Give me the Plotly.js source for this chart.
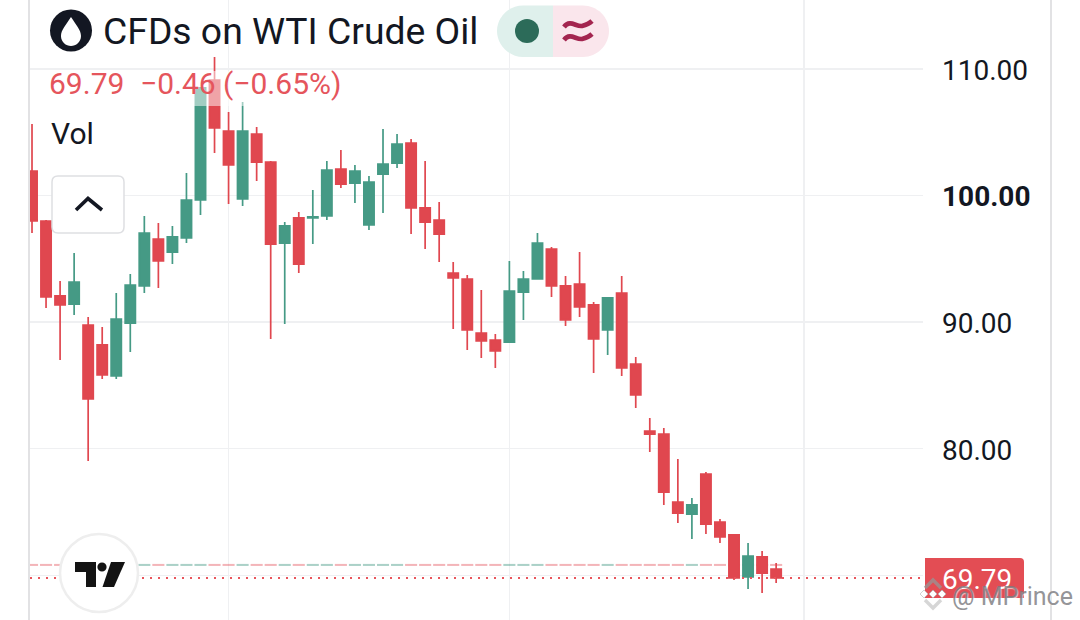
<!DOCTYPE html>
<html><head><meta charset="utf-8">
<script src="https://cdn.plot.ly/plotly-3.0.1.min.js"></script>
<style>html,body{margin:0;padding:0;background:#fff;overflow:hidden}#c{width:1080px;height:620px}</style>
</head><body><div id="c"></div>
<script>
const opens=[101.94,97.99,92.07,91.43,89.77,88.20,85.75,89.93,92.86,96.57,95.54,96.65,99.65,109.13,105.10,99.73,104.86,102.65,96.25,98.23,98.23,98.39,102.10,100.99,97.68,101.70,102.57,104.15,99.02,98.07,93.88,93.41,89.14,88.59,88.43,92.38,93.41,95.78,92.86,93.01,91.36,89.38,92.30,86.69,81.40,81.16,75.79,74.84,78.00,74.21,73.19,69.87,71.45,70.50];
const highs=[105.65,98.07,93.25,95.46,90.41,89.62,92.30,93.80,98.39,97.83,97.60,101.78,108.50,110.95,106.60,107.39,105.42,102.73,97.91,98.70,100.44,102.73,103.60,102.42,101.55,105.26,104.86,104.47,102.73,99.49,94.75,93.73,92.54,89.06,94.83,94.04,97.04,95.94,93.65,95.54,91.59,91.91,93.65,87.25,82.43,81.64,79.19,76.11,78.16,74.45,73.19,72.55,71.92,70.97];
const lows=[97.04,91.12,87.01,90.57,79.03,85.51,85.51,87.64,92.30,92.70,94.59,96.25,98.47,103.36,99.33,99.18,101.15,88.67,89.85,93.88,96.17,98.07,100.60,99.41,97.28,98.62,102.18,96.96,95.78,94.75,89.46,87.80,87.17,86.38,88.43,90.17,93.41,91.99,89.70,90.41,85.98,87.41,85.75,83.22,79.74,75.56,74.13,72.87,73.26,72.55,69.63,68.92,68.60,69.39];
const closes=[97.99,91.99,91.36,93.17,83.93,85.83,90.25,92.93,97.04,94.83,96.73,99.65,108.50,105.34,102.42,105.10,102.65,96.17,97.60,94.59,98.31,102.02,100.91,101.94,101.07,102.49,104.07,99.02,97.91,96.96,93.49,89.38,88.51,87.72,92.46,93.41,96.25,92.86,90.17,91.20,88.67,91.91,86.38,84.25,81.16,76.58,74.92,75.56,74.05,73.03,69.79,71.52,70.18,69.79];
const volumes=[0.16,0.16,0.16,0.16,0.16,0.16,0.16,0.16,0.16,0.16,0.16,0.16,0.16,0.16,0.16,0.16,0.16,0.16,0.16,0.16,0.16,0.16,0.16,0.16,0.16,0.16,0.16,0.16,0.16,0.16,0.16,0.16,0.16,0.16,0.16,0.16,0.16,0.16,0.16,0.16,0.16,0.16,0.16,0.16,0.16,0.16,0.16,0.16,0.16,0.16,0.16,0.16,0.16,0.16];
const priceTicks=[70,80,90,100,110];
const priceLabels=['','80.00','90.00','<b>100.00</b>','110.00'];
const lastPrice=69.79;
const volumeBase=70.74;
const timeGrid=[14,34,55];
const sessions=opens.map((_,i)=>i);

const RED='#E0474F',GREEN='#459A85',INK='#131722';
const L=30,R=157,W=1080,H=620,PW=W-L-R;
const fx=x=>(x-L)/PW, fy=y=>1-y/H;
const pth=s=>{let n=0;return s.replace(/-?\d+(\.\d+)?/g,m=>{const v=parseFloat(m);const r=(n++%2===0)?fx(v):fy(v);return r.toFixed(5);});};
const pshape=(d,o)=>Object.assign({type:'path',xref:'paper',yref:'paper',path:pth(d),layer:'above',line:{width:0}},o);
const circ=(cx,cy,r,o)=>Object.assign({type:'circle',xref:'paper',yref:'paper',x0:fx(cx-r),x1:fx(cx+r),y0:fy(cy+r),y1:fy(cy-r),layer:'above',line:{width:0}},o);
const rrect=(a,b,c,d,r)=>`M${a+r} ${b} L${c-r} ${b} Q${c} ${b} ${c} ${b+r} L${c} ${d-r} Q${c} ${d} ${c-r} ${d} L${a+r} ${d} Q${a} ${d} ${a} ${d-r} L${a} ${b+r} Q${a} ${b} ${a+r} ${b} Z`;
const note=(text,x,y,size,color,extra)=>Object.assign({text,xref:'paper',yref:'paper',x:fx(x),y:fy(y),xanchor:'left',yanchor:'middle',showarrow:false,font:{family:'Roboto',size,color}},extra||{});

const shapes=[
 {type:'line',xref:'paper',yref:'paper',x0:fx(29),x1:fx(29),y0:0,y1:1,layer:'above',line:{color:'#e2e2e4',width:2}},
 {type:'line',xref:'paper',yref:'paper',x0:fx(1051),x1:fx(1051),y0:0,y1:1,layer:'above',line:{color:'#e2e2e4',width:2}},
 {type:'rect',xref:'paper',yref:'paper',x0:fx(30),x1:fx(345),y0:fy(106),y1:fy(71),layer:'above',fillcolor:'rgba(255,255,255,0.5)',line:{width:0}},
 {type:'line',xref:'paper',yref:'y',x0:0,x1:1,y0:lastPrice,y1:lastPrice,layer:'above',line:{color:'#E8555C',width:2,dash:'2px,6px'}},
 pshape(`M925 558 L1020 558 Q1024 558 1024 562 L1024 598 L925 598 Z`,{fillcolor:'#E34D54'}),
 circ(71,30.5,21,{fillcolor:'#131722'}),
 pshape('M71 17 C66 25 61 30 61 36 C61 42 66 46 71 46 C76 46 81 42 81 36 C81 30 76 25 71 17 Z',{fillcolor:'#ffffff'}),
 pshape('M553 5.5 L523 5.5 C509 5.5 497 17 497 31 C497 45 509 57 523 57 L553 57 Z',{fillcolor:'#DFF0EC'}),
 pshape('M553 5.5 L583 5.5 C597 5.5 609 17 609 31 C609 45 597 57 583 57 L553 57 Z',{fillcolor:'#FAE6EC'}),
 circ(527,31,12,{fillcolor:'#2C6B59'}),
 pshape('M564 27 C570 19 576 27 582 26 C586 25 589 24 592 21',{line:{color:'#A3254F',width:4.6}}),
 pshape('M564 40 C570 32 576 40 582 39 C586 38 589 37 592 34',{line:{color:'#A3254F',width:4.6}}),
 pshape(rrect(52,176,124,233,6),{fillcolor:'#ffffff',line:{color:'#dedfe2',width:1.5}}),
 pshape('M76 210 L88 198.5 L102 210',{line:{color:INK,width:3.6}}),
 circ(99,573,39,{fillcolor:'#ffffff',line:{color:'#eeeeee',width:2.5}}),
 pshape('M75 562 L96 562 L96 587 L86 587 L86 572 L75 572 Z',{fillcolor:'#131313'}),
 circ(102,567,4.6,{fillcolor:'#131313'}),
 pshape('M111 562 L125 562 L114 587 L102.5 587 Z',{fillcolor:'#131313'}),
 pshape('M925 588 L933 580 L941 588',{line:{color:'rgba(150,150,150,0.75)',width:3.4}}),
 pshape('M933 590 L937 594 L933 598 L929 594 Z',{fillcolor:'#ffffff',line:{color:'rgba(175,175,175,0.7)',width:1}}),
 pshape('M924 590 L928 594 L924 598 L920 594 Z',{fillcolor:'#ffffff',line:{color:'rgba(190,190,190,0.7)',width:1}}),
 pshape('M942 590 L946 594 L942 598 L938 594 Z',{fillcolor:'#ffffff',line:{color:'rgba(175,175,175,0.7)',width:1}}),
 pshape('M925 600 L933 608 L941 600',{line:{color:'rgba(210,210,210,0.9)',width:3.4}})
];

const annotations=[
 note('CFDs on WTI Crude Oil',100.5,30.5,37.3,INK),
 note('69.79',46.5,83,30,'#E5555C'),
 note('\u22120.46 (\u22120.65%)',137.5,83,30,'#E5555C'),
 note('Vol',49,134,30,INK),
 note('69.79',977,579,28,'#ffffff',{xanchor:'center'}),
 note('@ MPrince',950,596,25,'rgba(120,120,125,0.8)',{font:{family:'Roboto',size:25,color:'rgba(120,120,125,0.8)',shadow:'1px 1px 1px rgba(255,255,255,0.8)'}})
];

const traces=[
 {type:'bar',x:sessions,y:volumes,base:volumeBase,width:0.86,hoverinfo:'skip',
  marker:{color:closes.map((c,i)=>c>=opens[i]?'rgba(69,154,133,0.45)':'rgba(224,71,79,0.4)'),line:{width:0}}},
 {type:'candlestick',x:sessions,open:opens,high:highs,low:lows,close:closes,whiskerwidth:0,
  increasing:{line:{color:GREEN,width:1.7},fillcolor:GREEN},
  decreasing:{line:{color:RED,width:1.7},fillcolor:RED}}
];

const layout={
 width:W,height:H,margin:{l:L,r:R,t:0,b:0,pad:0},paper_bgcolor:'#fff',plot_bgcolor:'#fff',showlegend:false,boxgap:0.27,boxgroupgap:0,
 xaxis:{type:'linear',range:[-0.143,63.46],tickmode:'array',tickvals:timeGrid,showticklabels:false,ticks:'',showgrid:true,gridcolor:'#eff0f2',gridwidth:1.5,zeroline:false,showline:false,rangeslider:{visible:false},fixedrange:true},
 yaxis:{side:'right',range:[66.47,115.45],tickmode:'array',tickvals:priceTicks,ticktext:priceLabels,ticks:'',ticklabelstandoff:18,ticklabelshift:1,tickfont:{family:'Roboto',size:28,color:INK},showgrid:true,gridcolor:'#eff0f2',gridwidth:1.5,zeroline:false,showline:false,fixedrange:true,automargin:false},
 shapes,annotations
};
Plotly.newPlot('c',traces,layout,{displayModeBar:false,staticPlot:true});
</script></body></html>
